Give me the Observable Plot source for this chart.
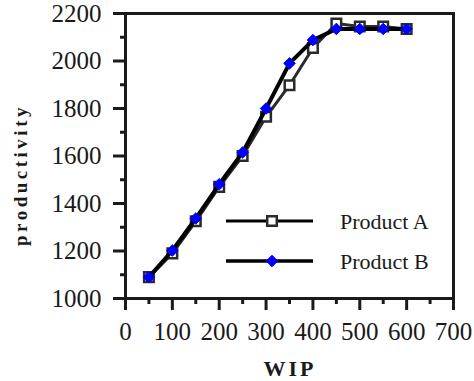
<!DOCTYPE html>
<html><head><meta charset="utf-8">
<script src="https://cdn.jsdelivr.net/npm/d3@7"></script>
<script src="https://cdn.jsdelivr.net/npm/@observablehq/plot@0.6"></script>
<style>
body{margin:0;background:#fff;}
#chart{position:relative;width:474px;height:381px;}
#chart svg, #chart svg text{font-family:"Liberation Serif" !important;font-variant-numeric:normal !important;}
</style>
</head><body><div id="chart"></div>
<script>
const wip = [50, 100, 150, 200, 250, 300, 350, 400, 450, 500, 550, 600];
const productA = [1090, 1190, 1325, 1470, 1600, 1765, 1898, 2055, 2158, 2145, 2145, 2135];
const productB = [1090, 1202, 1337, 1481, 1615, 1800, 1990, 2088, 2135, 2135, 2135, 2135];
const seriesNames = ["Product A", "Product B"];
const xTicks = [0, 100, 200, 300, 400, 500, 600, 700];
const xMinor = [50, 150, 250, 350, 450, 550, 650];
const yTicks = [1000, 1200, 1400, 1600, 1800, 2000, 2200];
const yMinor = [1100, 1300, 1500, 1700, 1900, 2100];

const dataA = wip.map((x, i) => ({x, y: productA[i]}));
const dataB = wip.map((x, i) => ({x, y: productB[i]}));

const font = "Liberation Serif";
const ink = "#1a1a1a";
const fmt = d => String(d);

const chart = Plot.plot({
  width: 474, height: 381,
  marginLeft: 125, marginRight: 21, marginTop: 13, marginBottom: 83,
  style: {fontFamily: font, fontSize: "25px", color: ink, background: "white"},
  x: {domain: [0, 700]},
  y: {domain: [1000, 2200]},
  marks: [
    Plot.axisX(xTicks, {tickSize: 12, tickPadding: 12, strokeWidth: 3, stroke: ink, label: null, fontSize: 25, fontFamily: font, fontVariant: "normal", tickFormat: fmt}),
    Plot.axisX(xMinor, {tickSize: 6, text: null, strokeWidth: 3, stroke: ink, label: null}),
    Plot.axisY(yTicks, {tickSize: 12, tickPadding: 12, strokeWidth: 3, stroke: ink, label: null, fontSize: 25, fontFamily: font, fontVariant: "normal", tickFormat: fmt}),
    Plot.axisY(yMinor, {tickSize: 5, text: null, strokeWidth: 3, stroke: ink, label: null}),
    Plot.frame({stroke: ink, strokeWidth: 3}),
    Plot.line(dataA, {x: "x", y: "y", stroke: "#2a2a2a", strokeWidth: 3}),
    Plot.dot(dataA, {x: "x", y: "y", symbol: "square", r: 5.4, stroke: "#2a2a2a", strokeWidth: 2.5, fill: "white"}),
    Plot.line(dataB, {x: "x", y: "y", stroke: "black", strokeWidth: 4}),
    Plot.dot(dataB, {x: "x", y: "y", symbol: "diamond2", r: 5.2, stroke: "#0000ff", strokeWidth: 1, fill: "#0000ff"})
  ]
});
document.getElementById("chart").appendChild(chart);

const svg = d3.select(chart);
svg.selectAll("text").attr("font-family", font).style("font-variant", "normal");
// Axis titles
svg.append("text")
  .attr("transform", "translate(27,175) rotate(-90)")
  .attr("text-anchor", "middle")
  .attr("font-family", font).attr("font-weight", "bold").attr("font-size", 19)
  .attr("letter-spacing", 3.5).attr("fill", ink)
  .text("productivity");
svg.append("text")
  .attr("x", 290).attr("y", 376)
  .attr("text-anchor", "middle")
  .attr("font-family", font).attr("font-weight", "bold").attr("font-size", 22)
  .attr("letter-spacing", 3).attr("fill", ink)
  .text("WIP");

// Legend
const leg = svg.append("g");
const rows = [
  {name: seriesNames[0], y: 221, sym: d3.symbolSquare, size: 92, fill: "white", stroke: "#2a2a2a", sw: 2.5, lw: 3},
  {name: seriesNames[1], y: 261, sym: d3.symbolDiamond2, size: 85, fill: "#0000ff", stroke: "#0000ff", sw: 1, lw: 3.5}
];
rows.forEach(r => {
  leg.append("line").attr("x1", 226).attr("x2", 313).attr("y1", r.y).attr("y2", r.y)
    .attr("stroke", "black").attr("stroke-width", r.lw);
  leg.append("path").attr("d", d3.symbol(r.sym, r.size)())
    .attr("transform", `translate(272,${r.y})`)
    .attr("fill", r.fill).attr("stroke", r.stroke).attr("stroke-width", r.sw);
  leg.append("text").attr("x", 340).attr("y", r.y).attr("dy", "0.35em")
    .attr("text-anchor", "start")
    .attr("font-family", font).attr("font-size", 22).attr("fill", ink)
    .text(r.name);
});
</script>
</body></html>
